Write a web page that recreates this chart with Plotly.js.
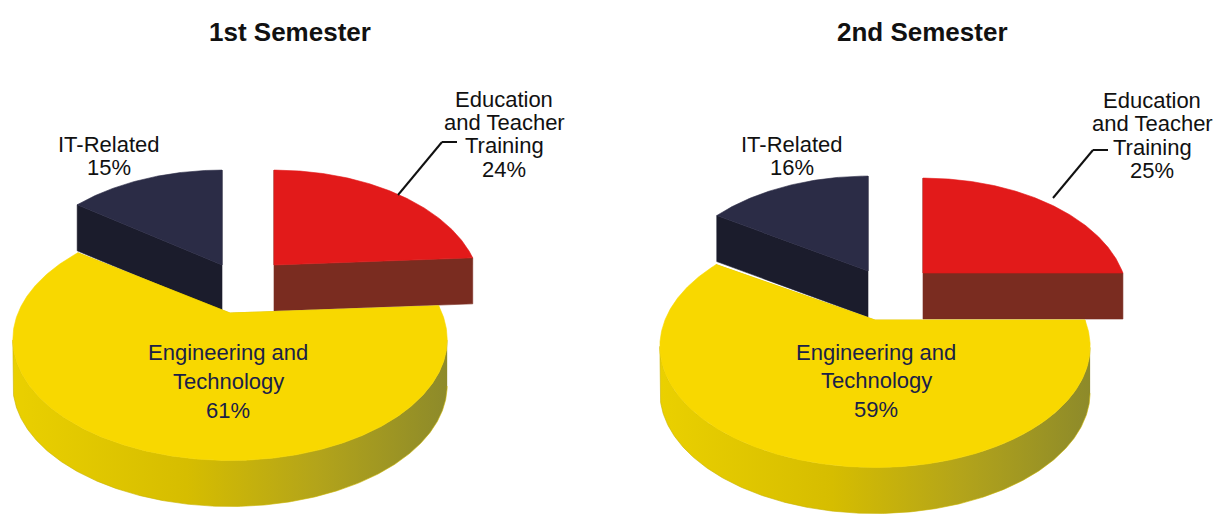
<!DOCTYPE html>
<html>
<head>
<meta charset="utf-8">
<script src="https://cdn.plot.ly/plotly-3.0.1.min.js"></script>
<style>html,body{margin:0;padding:0;background:#fff;}#chart{width:1216px;height:519px;}</style>
</head>
<body>
<div id="chart"></div>
<script>
// ---------------- data ----------------
const categories = ['Education and Teacher Training', 'Engineering and Technology', 'IT-Related'];
const labelLines = [['Education', 'and Teacher', 'Training'], ['Engineering and', 'Technology'], ['IT-Related']];
const sem1Values = [24, 61, 15];
const sem2Values = [25, 59, 16];
const semesterTitles = ['1st Semester', '2nd Semester'];

// ---------------- style / geometry ----------------
const topColors  = ['#e21a1a', '#f8d800', '#2b2c46'];
const wallColors = ['#7a2c20', '#c9b400', '#1b1c2c'];
const drawOrder = [2, 0, 1];           // back slices first
const RY = 115.5, K = 0.217, DEPTH = 46;
const pies = [
  {values: sem1Values, cx: 230, cy: 313, rx: 212,
   offsets: [[44, -48], [0, 0], [-8, -48]], sx: [0.952, 1, 0.952],
   titleX: 290, labelPos: [[504, 99.5, 23.2], [228, 352.5, 28.8], [109, 144.5, 22.5]],
   leader: [[398, 195], [442, 142], [457, 142]]},
  {values: sem2Values, cx: 875, cy: 320, rx: 210,
   offsets: [[48, -47], [0, 0], [-7, -49]], sx: [0.952, 1, 0.952],
   titleX: 922, labelPos: [[1152, 100.5, 23.3], [876, 352, 28.8], [792, 144.5, 22.5]],
   leader: [[1053, 198], [1093, 150], [1108, 150]]}
];

const FONT = 'Liberation Sans, Arial, Helvetica, sans-serif';
const traces = [];
const annotations = [];
const shapes = [];

function proj(p, off, s, u, v) {
  const f = 1 / (1 + K * v);
  return [p.cx + off[0] + p.rx * s * u * f, p.cy + off[1] - RY * v * f];
}
function poly(pts, color, grad) {
  const t = {
    type: 'scatter', mode: 'lines', fill: 'toself',
    x: pts.map(q => q[0]), y: pts.map(q => q[1]),
    line: {width: 0.6, color: color}, fillcolor: color,
    hoverinfo: 'skip', showlegend: false
  };
  if (grad) t.fillgradient = grad;
  return t;
}

pies.forEach((p, pi) => {
  const total = p.values.reduce((a, b) => a + b, 0);
  const starts = [];
  let cum = 0;
  p.values.forEach(v => { starts.push(cum); cum += v; });
  drawOrder.forEach(i => {
    const a = 90 - 360 * starts[i] / total;
    const b = a - 360 * p.values[i] / total;
    const off = p.offsets[i];
    const s = p.sx[i];
    const n = Math.max(8, Math.ceil((a - b) / 0.5));
    const arc = [];
    const angs = [];
    for (let j = 0; j <= n; j++) {
      const t = (a + (b - a) * j / n) * Math.PI / 180;
      angs.push(t);
      arc.push(proj(p, off, s, Math.cos(t), Math.sin(t)));
    }
    const apex = proj(p, off, s, 0, 0);
    const down = q => [q[0], q[1] + DEPTH];
    // radial edge walls
    [arc[0], arc[arc.length - 1]].forEach(e => {
      traces.push(poly([apex, e, down(e), down(apex)], wallColors[i]));
    });
    // front arc wall (only where it faces the viewer)
    let run = [];
    const runs = [];
    angs.forEach((t, j) => {
      if (Math.sin(t) < -K + 1e-6) run.push(arc[j]);
      else if (run.length) { runs.push(run); run = []; }
    });
    if (run.length) runs.push(run);
    runs.forEach(r => {
      if (r.length < 2) return;
      const pts = r.concat(r.slice().reverse().map(down));
      const grad = i === 1 ? {type: 'horizontal', colorscale: [[0, '#ead000'], [0.4, '#d6bd00'], [0.7, '#b3a41a'], [1, '#8d8a2a']]} : null;
      traces.push(poly(pts, wallColors[i], grad));
    });
    // top face
    traces.push(poly([apex].concat(arc).concat([apex]), topColors[i]));
  });

  // title
  annotations.push({x: p.titleX, y: 32, xref: 'x', yref: 'y', text: '<b>' + semesterTitles[pi] + '</b>',
    showarrow: false, font: {family: FONT, size: 26, color: '#111'}, xanchor: 'center', yanchor: 'middle'});
  // slice labels
  categories.forEach((c, i) => {
    const lp = p.labelPos[i];
    const lines = labelLines[i].concat([p.values[i] + '%']);
    const col = i === 1 ? '#1a2148' : '#111';
    lines.forEach((ln, j) => {
      annotations.push({x: lp[0], y: lp[1] + j * lp[2], xref: 'x', yref: 'y', text: ln, showarrow: false,
        font: {family: FONT, size: 22, color: col}, xanchor: 'center', yanchor: 'middle'});
    });
  });
  // leader line
  const L = p.leader;
  for (let j = 0; j < L.length - 1; j++) {
    shapes.push({type: 'line', xref: 'x', yref: 'y', x0: L[j][0], y0: L[j][1], x1: L[j + 1][0], y1: L[j + 1][1],
      line: {color: '#111', width: 2}});
  }
});

const layout = {
  width: 1216, height: 519,
  margin: {l: 0, r: 0, t: 0, b: 0},
  paper_bgcolor: '#ffffff', plot_bgcolor: '#ffffff',
  xaxis: {range: [0, 1216], visible: false, fixedrange: true},
  yaxis: {range: [519, 0], visible: false, fixedrange: true},
  showlegend: false,
  annotations: annotations,
  shapes: shapes
};
Plotly.newPlot('chart', traces, layout, {displayModeBar: false, staticPlot: true});
</script>
</body>
</html>
